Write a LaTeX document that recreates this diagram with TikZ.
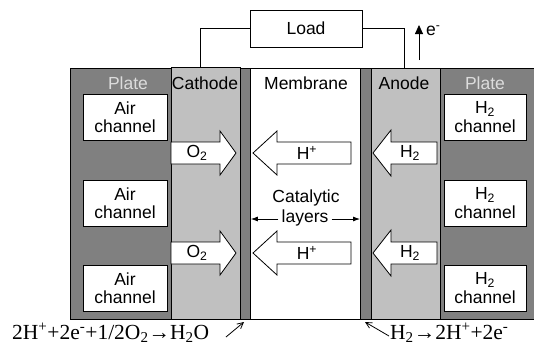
\documentclass[tikz,border=0pt]{standalone}
\usepackage{fontspec}
\setmainfont{Liberation Sans}
\newfontfamily\eqfont{Liberation Serif}
\usetikzlibrary{arrows.meta}
\definecolor{plategray}{HTML}{808080}
\definecolor{electrode}{HTML}{C0C0C0}
\definecolor{platetext}{HTML}{DCDCDC}
\tikzset{
  layer/.style={draw=black, line width=0.8pt, inner sep=0pt, anchor=north west},
  chan/.style={draw=black, fill=white, line width=0.8pt, inner sep=0pt, minimum width=84pt, minimum height=46pt, align=center, font=\fontsize{17.5}{18.5}\selectfont},
  lbl/.style={inner sep=0pt, font=\fontsize{17.5}{19}\selectfont},
  blk/.style={draw=black, fill=white, line width=0.8pt, line join=miter},
  wire/.style={draw=black, line width=0.8pt},
  eq/.style={inner sep=0pt, font=\eqfont\fontsize{21.5}{23}\selectfont},
}
\begin{document}
\begin{tikzpicture}[x=1pt,y=-1pt]
\useasboundingbox (0,0) rectangle (534,346);
% layers
\node[layer, fill=plategray, minimum width=101pt, minimum height=251pt] (plateL) at (70,68) {};
\node[layer, fill=electrode, minimum width=69pt, minimum height=252pt] (cathode) at (171,67) {};
\node[layer, fill=plategray, minimum width=10pt, minimum height=251pt] (catL) at (240,68) {};
\node[layer, fill=white, minimum width=110pt, minimum height=251pt] (membrane) at (250,68) {};
\node[layer, fill=plategray, minimum width=11pt, minimum height=251pt] (catR) at (360,68) {};
\node[layer, fill=electrode, minimum width=69pt, minimum height=251pt] (anode) at (371,68) {};
\node[layer, fill=plategray, minimum width=100pt, minimum height=251pt] (plateR) at (440,68) {};
% headings
\node[lbl, text=platetext] (tPL) at (128,83) {Plate};
\node[lbl] (tCa) at (205,83) {Cathode};
\node[lbl] (tMe) at (306,83) {Membrane};
\node[lbl] (tAn) at (404,83) {Anode};
\node[lbl, text=platetext] (tPR) at (485,83) {Plate};
% channels
\node[chan] (ac1) at (125,117) {Air\\channel};
\node[chan] (ac2) at (125,203) {Air\\channel};
\node[chan] (ac3) at (125,288) {Air\\channel};
\node[chan, minimum width=82pt] (hc1) at (485,117) {H\textsubscript{2}\\channel};
\node[chan, minimum width=82pt] (hc2) at (485,203) {H\textsubscript{2}\\channel};
\node[chan, minimum width=82pt] (hc3) at (485,288) {H\textsubscript{2}\\channel};
% block arrows
\foreach \d/\n in {0/1,100/2}{
  \draw[blk] (171,142+\d) -- (220,142+\d) -- (220,131+\d) -- (236,153+\d) -- (220,175+\d) -- (220,164+\d) -- (171,164+\d) -- cycle;
  \node[lbl] (o\n) at (197,153+\d) {O\textsubscript{2}};
  \draw[blk] (351,142+\d) -- (277,142+\d) -- (277,131+\d) -- (253,153+\d) -- (277,175+\d) -- (277,164+\d) -- (351,164+\d) -- cycle;
  \node[lbl] (hp\n) at (307,153+\d) {H\textsuperscript{+}};
  \draw[blk] (437,142+\d) -- (391,142+\d) -- (391,130+\d) -- (373,153+\d) -- (391,176+\d) -- (391,164+\d) -- (437,164+\d) -- cycle;
  \node[lbl] (h\n) at (410,153+\d) {H\textsubscript{2}};
}
% catalytic layers
\node[lbl] (cat) at (306,198) {Catalytic};
\node[lbl] (lay) at (305,218) {layers};
\draw[wire, -{Latex[length=7pt,width=5pt]}] (lay.west) ++(-3,1) -- (catL.east |- 0,219);
\draw[wire, -{Latex[length=7pt,width=5pt]}] (lay.east) ++(3,1) -- (catR.west |- 0,219);
% load
\node[draw=black, line width=0.8pt, inner sep=0pt, minimum width=112pt, minimum height=37pt, lbl] (load) at (306,28.5) {Load};
\coordinate (wl) at (200,67);
\coordinate (wr) at (404,68);
\draw[wire] (load.west) -| (wl);
\draw[wire] (load.east) -| (wr);
\coordinate (eb) at (419,60);
\coordinate (et) at (419,25);
\draw[wire, -{Triangle[length=9pt,width=8pt]}] (eb) -- (et);
\node[lbl, anchor=west] (elab) at (426,31) {e\textsuperscript{-}};
% reactions
\node[eq, anchor=west] (rc) at (12,333) {2H\textsuperscript{+}+2e\textsuperscript{-}+1/2O\textsubscript{2}→H\textsubscript{2}O};
\node[eq, anchor=west] (ra) at (390,333) {H\textsubscript{2}→2H\textsuperscript{+}+2e\textsuperscript{-}};
\coordinate (rcs) at (226,337);
\coordinate (rct) at (244,322);
\coordinate (ras) at (389,336);
\coordinate (rat) at (365,322);
\draw[wire, -{Straight Barb[length=6pt,width=6pt]}] (rcs) -- (rct);
\draw[wire, -{Straight Barb[length=6pt,width=6pt]}] (ras) -- (rat);
\end{tikzpicture}
\end{document}
